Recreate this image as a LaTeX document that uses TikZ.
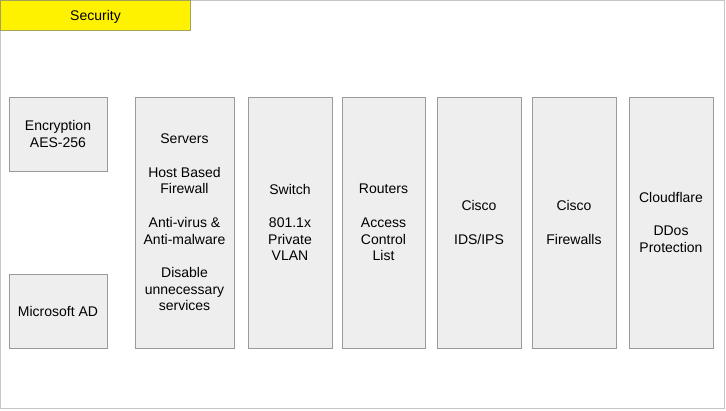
\documentclass[tikz,border=0pt]{standalone}
\usepackage{fontspec}
\setmainfont{Liberation Sans}
\usetikzlibrary{positioning}
\definecolor{boxfill}{HTML}{EEEEEE}
\definecolor{boxline}{HTML}{9A9A9A}
\definecolor{frameline}{HTML}{C6C6C6}
\definecolor{tagline}{HTML}{A3A35C}
\tikzset{
  every node/.style={font=\fontsize{14}{16.7}\selectfont,align=center,inner sep=0pt,text depth=0pt},
  layer/.style={draw=boxline,fill=boxfill,line width=1pt,minimum width=84pt,minimum height=251pt},
  smallbox/.style={layer,minimum width=98pt,minimum height=74pt},
  tag/.style={draw=tagline,fill=yellow,line width=1pt,minimum width=190pt,minimum height=30pt},
  frame/.style={draw=frameline,line width=1pt,minimum width=724pt,minimum height=408pt},
}

\begin{document}
\begin{tikzpicture}[x=1pt,y=-1pt]
  \useasboundingbox (0,0) rectangle (726,410);
  \node[frame] (frame) at (362.5,204.5) {};
  \node[tag] (sec) at (95.5,15.5) {Security};

  \node[smallbox] (enc) at (58,134) {Encryption\\AES-256};
  \node[smallbox] (ad)  at (58,311) {Microsoft AD};
  \node[layer,minimum width=99pt] (srv) at (184.5,222.5)
    {Servers\\[16.7pt]Host Based\\Firewall\\[16.7pt]Anti-virus \&\\Anti-malware\\[16.7pt]Disable\\unnecessary\\services};
  \node[layer] (sw)  at (290,222.5) {Switch\\[16.7pt]801.1x\\Private\\VLAN};
  \node[layer,minimum width=83pt] (rt) at (383.5,222.5) {Routers\\[16.7pt]Access\\Control\\List};
  \node[layer] (ids) at (479,222.5) {Cisco\\[16.7pt]IDS/IPS};
  \node[layer] (fw)  at (574,222.5) {Cisco\\[16.7pt]Firewalls};
  \node[layer] (cf)  at (671,222.5) {Cloudflare\\[16.7pt]DDos\\Protection};
\end{tikzpicture}
\end{document}
